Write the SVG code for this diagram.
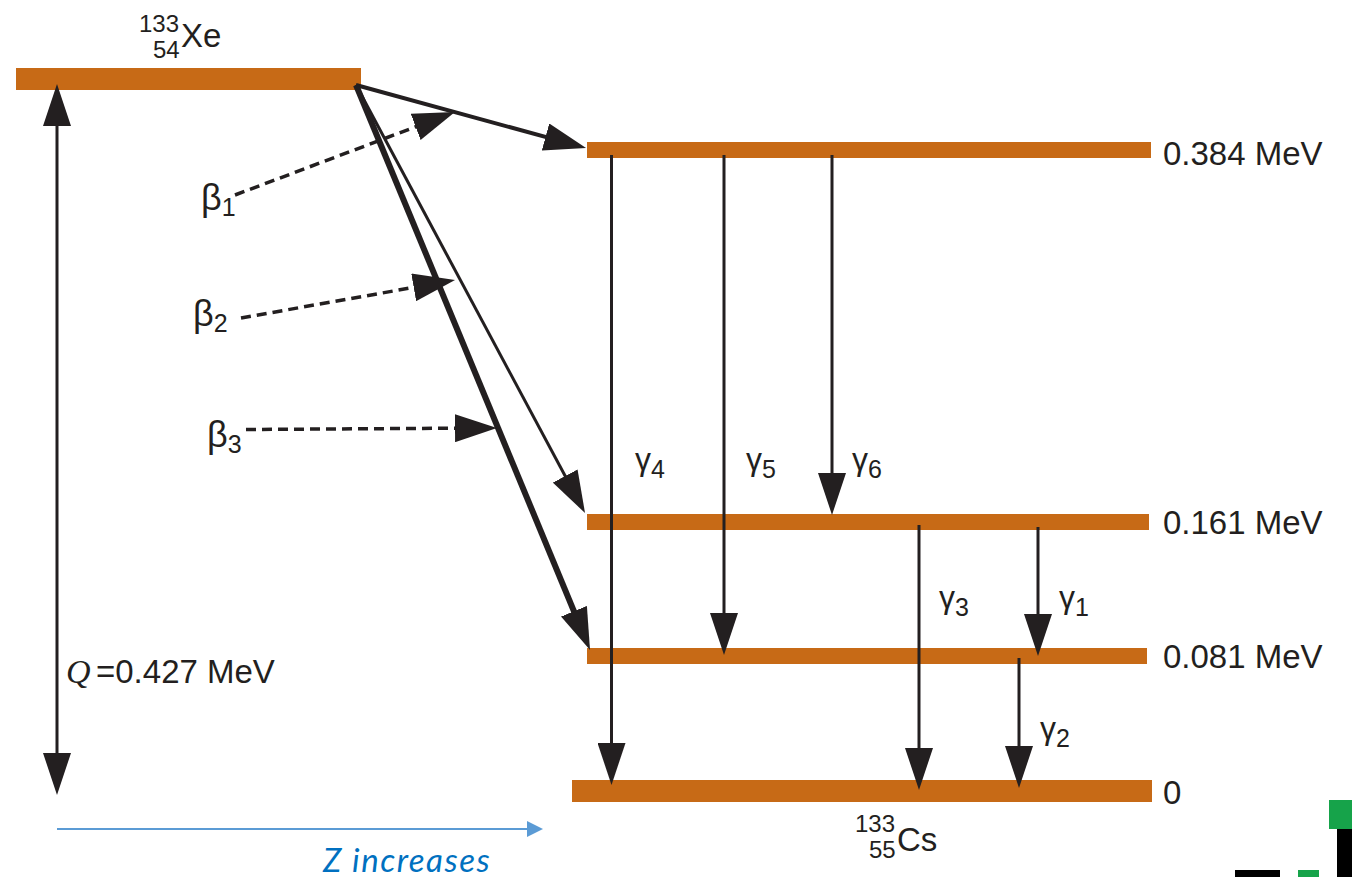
<svg xmlns="http://www.w3.org/2000/svg" width="1352" height="877" viewBox="0 0 1352 877">
<style>
.bar{fill:#c76a16}
.ln{stroke:#231f20;fill:none;marker-end:url(#h)}
.t{font-family:"Liberation Sans",Arial,sans-serif;fill:#231f20;font-size:33px}
.g{font-family:"Liberation Sans",Arial,sans-serif;fill:#231f20;font-size:36px}
.c{font-family:"Liberation Sans",Arial,sans-serif;fill:#231f20;font-size:32px}
.g tspan,.c tspan{font-size:25px}
.n{font-family:"Liberation Sans",Arial,sans-serif;fill:#231f20;font-size:24px}
</style>
<defs>
<marker id="h" markerUnits="userSpaceOnUse" markerWidth="44" markerHeight="28" refX="32" refY="14" orient="auto"><path d="M0 0L42 14L0 28Z" fill="#231f20"/></marker>
<marker id="hs" markerUnits="userSpaceOnUse" markerWidth="44" markerHeight="28" refX="32" refY="14" orient="auto-start-reverse"><path d="M0 0L42 14L0 28Z" fill="#231f20"/></marker>
<marker id="b" markerUnits="userSpaceOnUse" markerWidth="16" markerHeight="18" refX="1" refY="8" orient="auto"><path d="M0 0L16 8L0 16Z" fill="#5b9bd5"/></marker>
</defs>
<rect width="1352" height="877" fill="#fff"/>
<g id="level-xe"><rect class="bar" x="16" y="68" width="345" height="22"/></g>
<g id="level-0384"><rect class="bar" x="587" y="142" width="564" height="16"/></g>
<g id="level-0161"><rect class="bar" x="587" y="514" width="562" height="16"/></g>
<g id="level-0081"><rect class="bar" x="587" y="648" width="560" height="16"/></g>
<g id="level-0"><rect class="bar" x="572" y="780" width="580" height="22"/></g>
<g id="connectors">
<line x1="57" y1="94" x2="57" y2="785" stroke="#231f20" stroke-width="3" marker-start="url(#hs)" marker-end="url(#hs)"/>
<line class="ln" stroke-width="4" x1="356" y1="85" x2="576.4" y2="145.4"/>
<line class="ln" stroke-width="3" x1="356" y1="85" x2="580.3" y2="504.2"/>
<line class="ln" stroke-width="6" x1="356" y1="85" x2="586.2" y2="640.8"/>
<line class="ln" stroke-width="3.5" stroke-dasharray="10 6" x1="235" y1="195" x2="445.6" y2="115.5"/>
<line class="ln" stroke-width="3.5" stroke-dasharray="10 6" x1="241" y1="318" x2="445.2" y2="281.8"/>
<line class="ln" stroke-width="3.5" stroke-dasharray="10 6" x1="246" y1="429.5" x2="487" y2="428"/>
<line class="ln" stroke-width="3" x1="611.5" y1="155" x2="611.5" y2="775"/>
<line class="ln" stroke-width="3" x1="724" y1="155" x2="724" y2="645"/>
<line class="ln" stroke-width="3" x1="832" y1="155" x2="832" y2="505"/>
<line class="ln" stroke-width="3" x1="919" y1="525" x2="919" y2="780"/>
<line class="ln" stroke-width="3" x1="1038" y1="527" x2="1038" y2="646"/>
<line class="ln" stroke-width="3" x1="1019" y1="658" x2="1019" y2="778"/>
<line x1="57" y1="829" x2="528" y2="829" stroke="#5b9bd5" stroke-width="2" marker-end="url(#b)"/>
</g>
<g id="labels">
<text class="n" x="139" y="32">133</text><text class="n" x="153" y="58">54</text><text class="t" x="181" y="47">Xe</text>
<text class="g" x="201" y="210">β<tspan dy="6">1</tspan></text>
<text class="g" x="193" y="326">β<tspan dy="6">2</tspan></text>
<text class="g" x="207" y="447">β<tspan dy="6">3</tspan></text>
<text class="c" x="635" y="470">γ<tspan dy="8">4</tspan></text>
<text class="c" x="746" y="470">γ<tspan dy="8">5</tspan></text>
<text class="c" x="852" y="470">γ<tspan dy="8">6</tspan></text>
<text class="c" x="939" y="608">γ<tspan dy="8">3</tspan></text>
<text class="c" x="1059" y="608">γ<tspan dy="8">1</tspan></text>
<text class="c" x="1040" y="739">γ<tspan dy="8">2</tspan></text>
<text class="t" x="1163" y="165">0.384 MeV</text>
<text class="t" x="1163" y="534">0.161 MeV</text>
<text class="t" x="1163" y="668">0.081 MeV</text>
<text class="t" x="1163" y="804">0</text>
<text class="n" x="855" y="832">133</text><text class="n" x="869" y="858">55</text><text class="t" x="897" y="851">Cs</text>
<text x="66" y="683" font-family="Liberation Serif,serif" font-style="italic" font-size="34" fill="#231f20">Q</text>
<text class="t" x="96" y="683">=0.427 MeV</text>
<text x="323" y="872" font-family="Lato,sans-serif" font-style="italic" font-size="33" letter-spacing="1.5" fill="#0070c0">Z increases</text>
</g>
<rect x="1329" y="800" width="23" height="29" fill="#16a34a"/>
<rect x="1337" y="829" width="15" height="48" fill="#000"/>
<rect x="1235" y="870" width="45" height="7" fill="#000"/>
<rect x="1298" y="870" width="21" height="7" fill="#16a34a"/>
</svg>
